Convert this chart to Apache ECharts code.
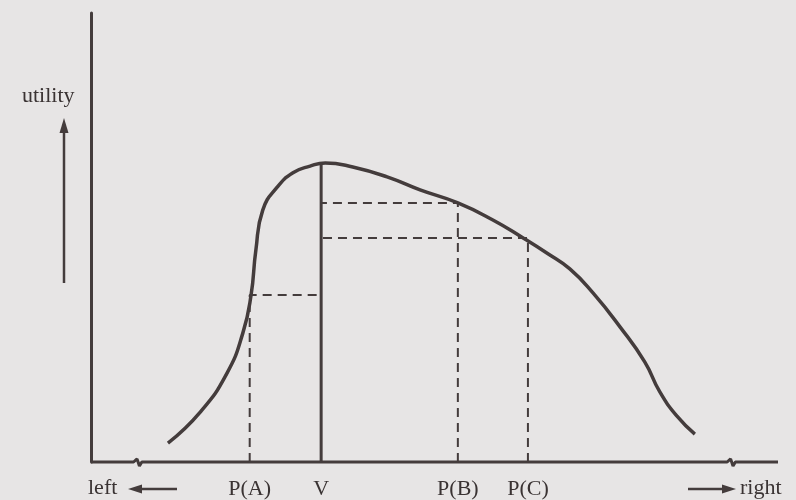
<!DOCTYPE html>
<html lang="en">
<head>
    <meta charset="UTF-8">
    <script src="https://cdn.jsdelivr.net/npm/echarts@6/dist/echarts.min.js"></script>
    <style>
        html, body { margin: 0; padding: 0; background: #e7e5e5; }
        #chart { width: 796px; height: 500px; }
    </style>
</head>
<body>
    <div id="chart"></div>
    <script>
        // utility curve over the left-right scale (0..100 both ways)
        var curveX = [11.2, 15.9, 19.8, 22.1, 23.3, 24.0, 25.0, 27.1, 29.4, 31.9, 34.1, 38.1, 43.1, 47.9, 53.4, 58.5, 62.9, 66.4, 69.7, 73.1, 77.0, 80.6, 82.8, 85.3, 87.9]
        var curveY = [4.2, 11.1, 19.8, 28.7, 37.2, 47.2, 56.1, 61.2, 64.4, 65.9, 66.6, 65.7, 63.5, 60.6, 57.7, 53.9, 49.9, 46.5, 43.0, 37.6, 30.1, 22.3, 15.6, 10.2, 6.2]

        // voter position and party positions
        var voterName = 'V'
        var voterX = 33.5
        var voterY = 66.6
        var partyNames = ['P(A)', 'P(B)', 'P(C)']
        var partyX = [23.1, 53.4, 63.6]
        var partyY = [37.2, 57.7, 49.9]

        // breaks drawn on the horizontal axis
        var axisBreaks = [6.8, 93.2]

        var ink = '#443c3c'
        var font = '"Liberation Serif", "DejaVu Serif", serif'

        var curveData = []
        for (var i = 0; i < curveX.length; i++) curveData.push([curveX[i], curveY[i]])

        // horizontal axis line with the little zigzag breaks
        var baseData = [[0, 0]]
        axisBreaks.forEach(function (b) {
            baseData.push([b - 0.6, 0], [b - 0.1, 0.7], [b + 0.25, -0.9], [b + 0.6, 0])
        })
        baseData.push([100, 0])

        var series = [
            {
                type: 'line', data: baseData, symbol: 'none', clip: false, silent: true,
                lineStyle: { color: ink, width: 3 }
            },
            {
                type: 'line', data: curveData, symbol: 'none', smooth: 0.5,
                lineStyle: { color: ink, width: 3.5 }
            },
            {
                type: 'line', data: [[voterX, 0], [voterX, voterY]], symbol: 'none',
                lineStyle: { color: ink, width: 3 }
            }
        ]
        partyX.forEach(function (x, i) {
            series.push({
                type: 'line', symbol: 'none',
                data: [[x, 0], [x, partyY[i]], [voterX, partyY[i]]],
                lineStyle: { color: ink, width: 2, type: [9, 6] }
            })
        })

        var labelValues = partyX.concat([voterX])
        var labelNames = partyNames.concat([voterName])

        var chart = echarts.init(document.getElementById('chart'))
        chart.setOption({
            backgroundColor: '#e7e5e5',
            animation: false,
            grid: { left: 91, right: 18, top: 13, bottom: 38 },
            xAxis: {
                type: 'value', min: 0, max: 100,
                axisLine: { show: false },
                axisTick: { show: false },
                splitLine: { show: false },
                axisLabel: {
                    customValues: labelValues,
                    formatter: function (v) {
                        var k = labelValues.indexOf(v)
                        return k >= 0 ? labelNames[k] : ''
                    },
                    color: '#3a3333', fontFamily: font, fontSize: 22, margin: 16
                }
            },
            yAxis: {
                type: 'value', min: 0, max: 100,
                axisLine: { show: true, lineStyle: { color: ink, width: 3 } },
                axisTick: { show: false },
                axisLabel: { show: false },
                splitLine: { show: false }
            },
            series: series,
            graphic: [
                { type: 'text', left: 22, top: 85, style: { text: 'utility', fill: '#3a3333', font: '22px ' + font } },
                { type: 'line', shape: { x1: 64, y1: 283, x2: 64, y2: 130 }, style: { stroke: ink, lineWidth: 2.5 } },
                { type: 'polygon', shape: { points: [[64, 118], [59.5, 133], [68.5, 133]] }, style: { fill: ink } },
                { type: 'text', left: 88, top: 477, style: { text: 'left', fill: '#3a3333', font: '22px ' + font } },
                { type: 'line', shape: { x1: 177, y1: 489, x2: 140, y2: 489 }, style: { stroke: ink, lineWidth: 2.5 } },
                { type: 'polygon', shape: { points: [[128, 489], [142, 484.5], [142, 493.5]] }, style: { fill: ink } },
                { type: 'line', shape: { x1: 688, y1: 489, x2: 724, y2: 489 }, style: { stroke: ink, lineWidth: 2.5 } },
                { type: 'polygon', shape: { points: [[736, 489], [722, 484.5], [722, 493.5]] }, style: { fill: ink } },
                { type: 'text', left: 740, top: 477, style: { text: 'right', fill: '#3a3333', font: '22px ' + font } }
            ]
        })
    </script>
</body>
</html>
